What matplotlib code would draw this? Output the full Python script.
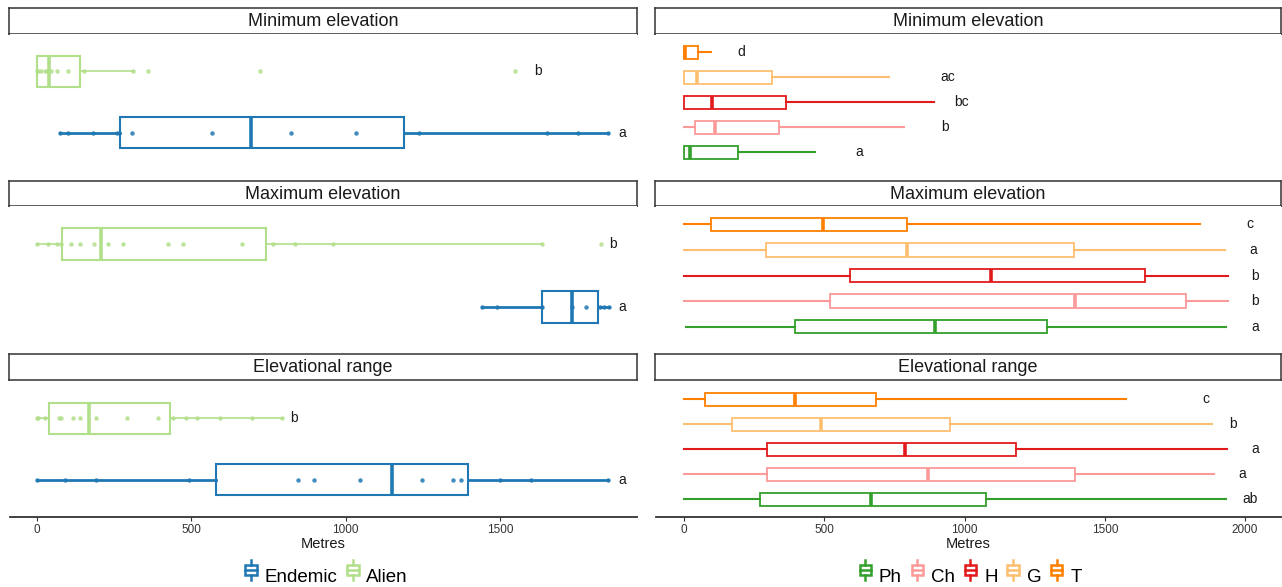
# Elevation boxplots: endemic vs alien (left) and growth forms (right)
import matplotlib
matplotlib.use("Agg")
import matplotlib.pyplot as plt
from matplotlib.patches import Rectangle
from matplotlib.lines import Line2D
from matplotlib.legend_handler import HandlerBase

plt.rcParams['font.family'] = ['Liberation Sans', 'DejaVu Sans']

# ----------------------------------------------------------------------
# Data (metres), stats = [whisker low, Q1, median, Q3, whisker high]

measures = ['Minimum elevation', 'Maximum elevation', 'Elevational range']

origin_groups = ['Endemic', 'Alien']
origin_colours = ['#1f78b4', '#b2df8a']

endemic_stats = [[76, 270, 693, 1189, 1850],
                 [1440, 1635, 1734, 1817, 1853],
                 [0, 581, 1149, 1395, 1850]]
alien_stats = [[0, 0, 40, 139, 310],
               [0, 81, 207, 741, 1635],
               [0, 39, 167, 430, 792]]

endemic_points = [[76, 102, 182, 260, 307, 566, 824, 1032, 1238, 1652, 1752, 1850],
                  [1440, 1490, 1635, 1734, 1780, 1824, 1837, 1853],
                  [0, 92, 191, 492, 845, 896, 1046, 1248, 1348, 1374, 1500, 1599, 1850]]
alien_points = [[0, 3, 12, 25, 32, 45, 65, 102, 151, 310, 360, 721, 1549],
                [0, 36, 65, 78, 111, 139, 184, 231, 279, 425, 473, 665, 766, 836, 958, 1635, 1828],
                [0, 2, 25, 71, 78, 116, 138, 191, 290, 393, 442, 482, 519, 594, 696, 792]]

endemic_letters = ['a', 'a', 'a']
alien_letters = ['b', 'b', 'b']
endemic_letter_x = [1896, 1896, 1896]
alien_letter_x = [1623, 1866, 832]

forms = ['Ph', 'Ch', 'H', 'G', 'T']
form_colours = ['#33a02c', '#fb9a99', '#e31a1c', '#fdbf6f', '#ff7f00']

form_stats = [
    # Minimum elevation
    [[0, 0, 20, 193, 467],
     [0, 38, 112, 339, 784],
     [0, 0, 100, 365, 890],
     [0, 0, 46, 312, 732],
     [0, 0, 5, 49, 96]],
    # Maximum elevation
    [[7, 394, 894, 1293, 1933],
     [0, 520, 1394, 1791, 1938],
     [0, 593, 1093, 1642, 1938],
     [0, 293, 793, 1391, 1929],
     [0, 96, 494, 793, 1839]],
    # Elevational range
    [[0, 271, 668, 1078, 1933],
     [0, 296, 871, 1394, 1890],
     [0, 296, 789, 1185, 1936],
     [0, 171, 488, 947, 1882],
     [0, 76, 394, 686, 1574]],
]
form_letters = [['a', 'b', 'bc', 'ac', 'd'],
                ['a', 'b', 'b', 'a', 'c'],
                ['ab', 'a', 'a', 'b', 'c']]
form_letter_x = [[623, 930, 990, 940, 203],
                 [2035, 2035, 2035, 2030, 2016],
                 [2017, 1991, 2035, 1958, 1861]]

# ----------------------------------------------------------------------
# Layout helpers (pixel boxes)

W, H = 1282, 587
fig = plt.figure(figsize=(W / 100, H / 100), dpi=100)


def px_axes(x0, y0, x1, y1):
    return fig.add_axes([x0 / W, 1 - y1 / H, (x1 - x0) / W, (y1 - y0) / H])


strip_rows = [(8, 34), (181, 206), (354, 380)]
panel_rows = [(34, 170), (206, 345), (381, 517)]
left_cols = (9, 637)
right_cols = (655, 1281)


def make_strip(x0, x1, y0, y1, label):
    sax = px_axes(x0, y0, x1, y1)
    sax.set_xticks([])
    sax.set_yticks([])
    for s in sax.spines.values():
        s.set_color('#333333')
        s.set_linewidth(1.1)
    sax.text(0.5, 0.48, label, ha='center', va='center', fontsize=13,
             color='#1a1a1a', transform=sax.transAxes)


def style_axis(ax, bottom):
    for s in ['top', 'right', 'left']:
        ax.spines[s].set_visible(False)
    ax.set_yticks([])
    if bottom:
        ax.spines['bottom'].set_color('#333333')
        ax.spines['bottom'].set_linewidth(1.3)
        ax.tick_params(axis='x', length=3, color='#333333', labelsize=8.5,
                       labelcolor='#333333', pad=2)
        ax.set_xlabel('Metres', fontsize=10.5, labelpad=1, color='#1a1a1a')
    else:
        ax.spines['bottom'].set_visible(False)
        ax.set_xticks([])


def draw_box(ax, stats, pos, colour, box_lw, whis_lw, med_lw, width=0.5):
    st = dict(whislo=stats[0], q1=stats[1], med=stats[2], q3=stats[3],
              whishi=stats[4], fliers=[])
    ax.bxp([st], positions=[pos], widths=width, orientation='horizontal',
           showcaps=False, showfliers=False, patch_artist=True,
           boxprops=dict(facecolor='white', edgecolor=colour, linewidth=box_lw),
           whiskerprops=dict(color=colour, linewidth=whis_lw),
           medianprops=dict(color=colour, linewidth=med_lw, solid_capstyle='butt'))


# ----------------------------------------------------------------------
# Left column: Endemic vs Alien

for i, m in enumerate(measures):
    make_strip(left_cols[0], left_cols[1], strip_rows[i][0], strip_rows[i][1], m)
    ax = px_axes(10, panel_rows[i][0], 637, panel_rows[i][1])
    groups = [(endemic_stats[i], endemic_points[i], endemic_letters[i], endemic_letter_x[i], 2.0),
              (alien_stats[i], alien_points[i], alien_letters[i], alien_letter_x[i], 1.2)]
    for j, (st, pts, let, lx, wlw) in enumerate(groups):
        col = origin_colours[j]
        draw_box(ax, st, j + 1, col, 1.5, wlw, 2.6)
        ax.plot(pts, [j + 1] * len(pts), 'o', color=col, markersize=3.2,
                alpha=0.85, markeredgewidth=0, zorder=4)
        ax.text(lx, j + 1, let, ha='center', va='center', fontsize=10, color='#1a1a1a')
    ax.set_xlim(-87.5, 1943.6)
    ax.set_ylim(0.4, 2.6)
    ax.set_xticks([0, 500, 1000, 1500])
    style_axis(ax, i == 2)

# ----------------------------------------------------------------------
# Right column: growth forms

for i, m in enumerate(measures):
    make_strip(right_cols[0], right_cols[1], strip_rows[i][0], strip_rows[i][1], m)
    ax = px_axes(656, panel_rows[i][0], 1281, panel_rows[i][1])
    for j, f in enumerate(forms):
        draw_box(ax, form_stats[i][j], j + 1, form_colours[j], 1.3, 1.5, 2.6, width=0.52)
        ax.text(form_letter_x[i][j], j + 1, form_letters[i][j], ha='center',
                va='center', fontsize=10, color='#1a1a1a')
    ax.set_xlim(-100, 2128)
    ax.set_ylim(0.28, 5.72)
    ax.set_xticks([0, 500, 1000, 1500, 2000])
    style_axis(ax, i == 2)

# ----------------------------------------------------------------------
# Legends with boxplot-style keys


class BoxKey(HandlerBase):
    def create_artists(self, legend, orig_handle, xd, yd, width, height, fontsize, trans):
        c = orig_handle.get_color()
        cx = xd + width / 2
        bw = width * 0.8
        r = Rectangle((cx - bw / 2, yd + 0.2 * height), bw, 0.6 * height,
                      facecolor='white', edgecolor=c, linewidth=1.8, transform=trans)
        med = Line2D([cx - bw / 2, cx + bw / 2], [yd + height / 2] * 2, color=c,
                     linewidth=1.8, transform=trans)
        w1 = Line2D([cx, cx], [yd - 0.05 * height, yd + 0.2 * height], color=c,
                    linewidth=1.8, transform=trans)
        w2 = Line2D([cx, cx], [yd + 0.8 * height, yd + 1.05 * height], color=c,
                    linewidth=1.8, transform=trans)
        return [r, med, w1, w2]


def add_legend(names, colours, xc):
    handles = [Line2D([], [], color=c) for c in colours]
    fig.legend(handles, names, loc='center', bbox_to_anchor=(xc / W, 1 - 576 / H),
               ncol=len(names), frameon=False, fontsize=13.5, handlelength=0.75,
               handleheight=1.1, handletextpad=0.35, columnspacing=0.45,
               handler_map={Line2D: BoxKey()})


add_legend(origin_groups, origin_colours, 326)
add_legend(forms, form_colours, 970)

fig.savefig('out.png', dpi=100)
